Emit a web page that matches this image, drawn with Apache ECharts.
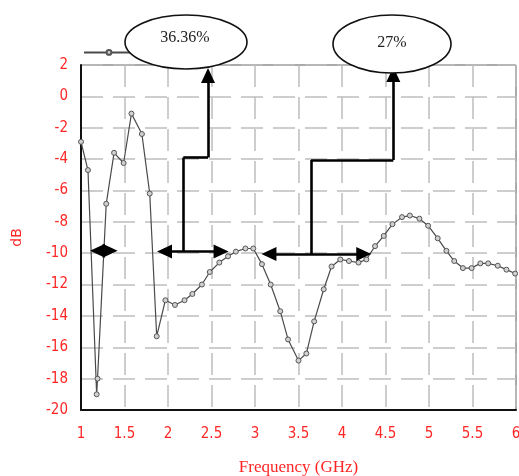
<!DOCTYPE html>
<html>
<head>
<meta charset="utf-8">
<script src="https://cdn.jsdelivr.net/npm/echarts@6/dist/echarts.min.js"></script>
<style>
  html, body { margin: 0; padding: 0; background: #fff; }
  #chart { width: 519px; height: 476px; }
</style>
</head>
<body>
<div id="chart"></div>
<script>
// measured return loss curve
const freq = [1.00, 1.08, 1.18, 1.19, 1.29, 1.38, 1.49, 1.58, 1.70, 1.79,
              1.87, 1.97, 2.08, 2.19, 2.28, 2.39, 2.48, 2.59, 2.69, 2.78,
              2.89, 2.98, 3.08, 3.18, 3.29, 3.38, 3.50, 3.59, 3.68, 3.79,
              3.88, 3.98, 4.08, 4.19, 4.28, 4.38, 4.48, 4.58, 4.69, 4.78,
              4.89, 4.99, 5.10, 5.20, 5.29, 5.39, 5.49, 5.59, 5.68, 5.79,
              5.89, 5.99];
const s11 = [-2.9, -4.7, -19.0, -18.0, -6.85, -3.6, -4.25, -1.1, -2.4, -6.2,
             -15.3, -13.0, -13.3, -13.0, -12.6, -12.0, -11.2, -10.6, -10.2, -9.9,
             -9.7, -9.7, -10.7, -12.0, -13.7, -15.5, -16.85, -16.4, -14.35, -12.3,
             -10.85, -10.4, -10.5, -10.6, -10.4, -9.55, -8.9, -8.15, -7.7, -7.6,
             -7.8, -8.25, -9.05, -9.85, -10.5, -10.95, -10.95, -10.65, -10.65, -10.8,
             -11.05, -11.3];
const bandLabels = ['36.36%', '27%'];

const red = '#ff2626';
const chart = echarts.init(document.getElementById('chart'));

// annotation arrows, in data coordinates
const head = [14, 15];
function seg(a, b, s0, s1) {
  return [
    { coord: a, symbol: s0 || 'none', symbolSize: head },
    { coord: b, symbol: s1 || 'none', symbolSize: head }
  ];
}
const arrows = [
  seg([1.19, -9.85], [1.335, -9.85], 'triangle', 'triangle'),
  seg([1.96, -9.9], [2.61, -9.9], 'triangle', 'triangle'),
  seg([2.176, -9.9], [2.176, -3.9]),
  seg([2.176, -3.9], [2.46, -3.9]),
  seg([2.46, -3.9], [2.46, 1.33], 'none', 'triangle'),
  seg([3.16, -10.05], [4.25, -10.05], 'triangle', 'triangle'),
  seg([3.644, -10.05], [3.644, -4.06]),
  seg([3.644, -4.06], [4.59, -4.06]),
  seg([4.59, -4.06], [4.59, 1.4], 'none', 'triangle')
];

const gridLine = { show: true, lineStyle: { color: '#bdbdbd', width: 1.5, type: [22, 10] } };

chart.setOption({
  animation: false,
  grid: {
    left: 81, right: 3, top: 65, bottom: 66,
    outerBoundsMode: 'none',
    show: true, borderColor: '#555', borderWidth: 1
  },
  legend: {
    left: 78, top: 44,
    itemWidth: 50, itemHeight: 6,
    formatter: function () { return ''; },
    data: ['S11']
  },
  xAxis: {
    type: 'value', min: 1, max: 6, interval: 0.5,
    name: 'Frequency (GHz)', nameLocation: 'middle', nameGap: 49,
    nameTextStyle: { color: red, fontFamily: 'Liberation Serif', fontSize: 17 },
    axisLine: { onZero: false, lineStyle: { color: '#111', width: 2 } },
    axisTick: { show: false },
    axisLabel: { color: red, fontFamily: 'DejaVu Sans Condensed', fontSize: 15, margin: 17 },
    splitLine: gridLine
  },
  yAxis: {
    type: 'value', min: -20, max: 2, interval: 2,
    name: 'dB', nameLocation: 'middle', nameGap: 57,
    nameTextStyle: { color: red, fontFamily: 'DejaVu Sans', fontSize: 14 },
    axisLine: { show: true, onZero: false, lineStyle: { color: '#111', width: 2 } },
    axisTick: { show: false },
    axisLabel: { color: red, fontFamily: 'DejaVu Sans Condensed', fontSize: 15, margin: 13 },
    splitLine: gridLine
  },
  series: [{
    name: 'S11',
    type: 'line',
    data: freq.map((f, i) => [f, s11[i]]),
    symbol: 'circle',
    symbolSize: 5,
    showAllSymbol: true,
    lineStyle: { color: '#4a4a4a', width: 1.2 },
    itemStyle: { color: '#d0d0d0', borderColor: '#555', borderWidth: 1 },
    markLine: {
      silent: true,
      symbol: ['none', 'none'],
      label: { show: false },
      lineStyle: { color: '#000', width: 2.6, type: 'solid' },
      itemStyle: { color: '#000' },
      emphasis: { disabled: true },
      data: arrows
    }
  }],
  graphic: [
    {
      type: 'ellipse', z: 100,
      shape: { cx: 186, cy: 42, rx: 61, ry: 27 },
      style: { fill: '#fff', stroke: '#111', lineWidth: 1.6 }
    },
    {
      type: 'text', z: 101, x: 185, y: 38,
      style: { text: bandLabels[0], fill: '#222', font: '16px "Liberation Serif"', align: 'center', verticalAlign: 'middle' }
    },
    {
      type: 'ellipse', z: 100,
      shape: { cx: 392, cy: 44, rx: 59, ry: 29 },
      style: { fill: '#fff', stroke: '#111', lineWidth: 1.6 }
    },
    {
      type: 'text', z: 101, x: 392, y: 43,
      style: { text: bandLabels[1], fill: '#222', font: '16px "Liberation Serif"', align: 'center', verticalAlign: 'middle' }
    }
  ]
});
</script>
</body>
</html>
